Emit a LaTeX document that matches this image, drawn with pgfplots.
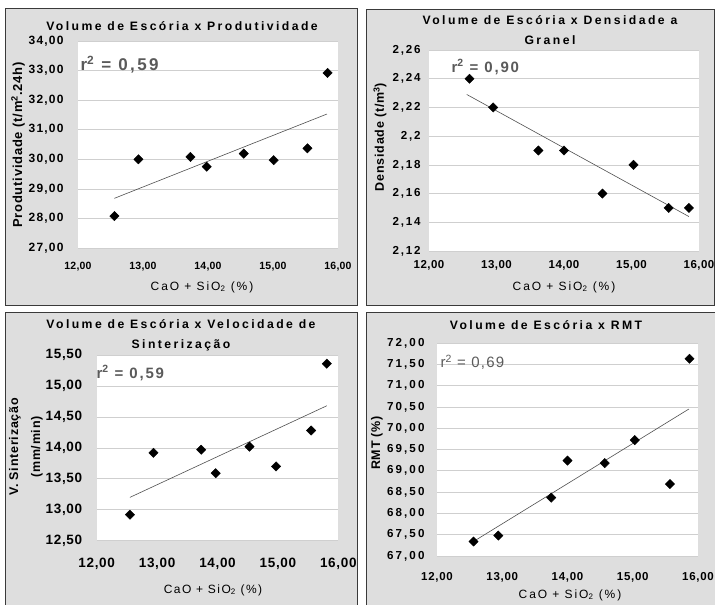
\documentclass[border=0pt]{standalone}
\usepackage{fontspec}
\setmainfont{Liberation Sans}
\usepackage{pgfplots}
\pgfplotsset{compat=1.18}
\newcommand\tk[2]{\bfseries\fontsize{#1}{#1}\selectfont\addfontfeatures{LetterSpace=#2}}
\newcommand\tkl[3]{\bfseries\fontsize{#1}{#3}\selectfont\addfontfeatures{LetterSpace=#2}}
\newcommand\tx[2]{\fontsize{#1}{#1}\selectfont\addfontfeatures{LetterSpace=#2}}
\definecolor{panel}{HTML}{DEDEDE}
\definecolor{gridc}{HTML}{CFCFCF}
\definecolor{trend}{HTML}{505050}
\definecolor{rtext}{HTML}{5A5A5A}
\definecolor{frame}{HTML}{3A3A3A}
\pgfplotsset{
 panelaxis/.style={
   scale only axis,
   anchor=south west,
   xmin=12, xmax=16, xtick={12,13,14,15,16},
   axis background/.style={fill=white},
   axis line style={draw=none},
   major tick length=0pt,
   ymajorgrids, grid style={gridc, line width=0.6pt},
   /pgf/number format/assume math mode=true,
   /pgf/number format/fixed,
   /pgf/number format/fixed zerofill,
   /pgf/number format/precision=2,
   /pgf/number format/use comma,
   /pgf/number format/1000 sep={},
   clip=false,
 },
 pts/.style={only marks, mark=square*, mark size=3.3pt, mark options={rotate=45, fill=black, draw=black}},
 trendl/.style={no marks, trend, line width=0.6pt},
}
\begin{document}
\begin{tikzpicture}[x=1pt,y=1pt]
\useasboundingbox (0,0) rectangle (715,605);
\fill[white] (0,0) rectangle (715,605);
% panel frames
\filldraw[fill=panel, draw=frame, line width=0.8pt] (5,300) rectangle (357.5,597);
\filldraw[fill=panel, draw=frame, line width=0.8pt] (366,300) rectangle (714,596);
\filldraw[fill=panel, draw=frame, line width=0.8pt] (5,-3) rectangle (357.5,292.5);
\filldraw[fill=panel, draw=frame, line width=0.8pt] (366,-3) rectangle (718,292.5);

% ---------- Panel 1 ----------
\begin{axis}[panelaxis, at={(78pt,357pt)}, width=260pt, height=207pt,
  ymin=27, ymax=34, ytick={27,28,29,30,31,32,33,34},
  xticklabel style={yshift=-11pt, font=\tk{10.5}{2}},
  yticklabel style={xshift=-11pt, font=\tk{12}{10}}]
\addplot[trendl] coordinates {(12.56,28.68) (15.83,31.53)};
\addplot[pts] coordinates {
 (12.56,28.08) (12.93,30.00) (13.73,30.08) (13.98,29.75)
 (14.55,30.19) (15.01,29.97) (15.53,30.37) (15.84,32.92)};
\end{axis}
\node[font=\tk{12.2}{20}] at (182,579) {Volume de Escória x Produtividade};
\node[font=\tx{12}{16}] at (202,318) {CaO + SiO\textsubscript{2} (\%)};
\node[rotate=90, font=\tk{13}{6}] at (18,460) {Produtividade (t/m\textsuperscript{2}.24h)};
\node[anchor=west, text=rtext, font=\tk{17}{14}] at (77,540) {r\textsuperscript{2} = 0,59};

% ---------- Panel 2 ----------
\begin{axis}[panelaxis, at={(429pt,354pt)}, width=270pt, height=201pt,
  ymin=2.12, ymax=2.26, ytick={2.12,2.14,2.16,2.18,2.20,2.22,2.24,2.26},
  xticklabel style={yshift=-6pt, font=\tk{11.5}{4}},
  yticklabel style={xshift=-5pt, font=\tk{11.6}{15}, /pgf/number format/fixed zerofill=false}]
\addplot[trendl] coordinates {(12.56,2.229) (15.85,2.144)};
\addplot[pts] coordinates {
 (12.60,2.24) (12.95,2.22) (13.62,2.19) (14.00,2.19)
 (14.57,2.16) (15.03,2.18) (15.55,2.15) (15.85,2.15)};
\end{axis}
\node[align=center, font=\tkl{12.2}{20}{20}] at (550,575) {Volume de Escória x Densidade a\\Granel};
\node[font=\tx{12}{16}] at (564,318) {CaO + SiO\textsubscript{2} (\%)};
\node[rotate=90, font=\tk{12.5}{6}] at (380,468) {Densidade (t/m\textsuperscript{3})};
\node[anchor=west, text=rtext, font=\tk{15}{12}] at (448,538) {r\textsuperscript{2} = 0,90};

% ---------- Panel 3 ----------
\begin{axis}[panelaxis, at={(96.7pt,64.3pt)}, width=241.6pt, height=185.7pt,
  ymin=12.5, ymax=15.5, ytick={12.5,13,13.5,14,14.5,15,15.5},
  xticklabel style={yshift=-14pt, font=\tk{13.5}{5}},
  yticklabel style={xshift=-11pt, font=\tk{13.5}{5}}]
\addplot[trendl] coordinates {(12.55,13.20) (15.81,14.68)};
\addplot[pts] coordinates {
 (12.55,12.92) (12.94,13.92) (13.73,13.97) (13.97,13.59)
 (14.53,14.02) (14.97,13.70) (15.55,14.28) (15.81,15.36)};
\end{axis}
\node[align=center, font=\tkl{12.2}{20}{20}] at (181,270) {Volume de Escória x Velocidade de\\Sinterização};
\node[font=\tx{12}{12}] at (213,15) {CaO + SiO\textsubscript{2} (\%)};
\node[rotate=90, align=center, font=\tkl{12.5}{6}{22}] at (26,158) {V. Sinterização\\(mm/min)};
\node[anchor=west, text=rtext, font=\tk{15}{12}] at (93,232) {r\textsuperscript{2} = 0,59};

% ---------- Panel 4 ----------
\begin{axis}[panelaxis, at={(437pt,49pt)}, width=261pt, height=213pt,
  ymin=67, ymax=72, ytick={67,67.5,68,68.5,69,69.5,70,70.5,71,71.5,72},
  xticklabel style={yshift=-13pt, font=\tk{11.5}{6}},
  yticklabel style={xshift=-9pt, font=\tk{11.6}{18}}]
\addplot[trendl] coordinates {(12.58,67.36) (15.86,70.45)};
\addplot[pts] coordinates {
 (12.56,67.34) (12.94,67.48) (13.75,68.37) (14.00,69.24)
 (14.57,69.18) (15.03,69.72) (15.57,68.69) (15.87,71.63)};
\end{axis}
\node[font=\tk{12.2}{20}] at (546,280) {Volume de Escória x RMT};
\node[font=\tx{12}{16}] at (570,10) {CaO + SiO\textsubscript{2} (\%)};
\node[rotate=90, font=\tk{12.5}{6}] at (377,162) {RMT (\%)};
\node[anchor=west, text=rtext, font=\tx{15}{8}] at (437,243) {r\textsuperscript{2} = 0,69};
\end{tikzpicture}
\end{document}
